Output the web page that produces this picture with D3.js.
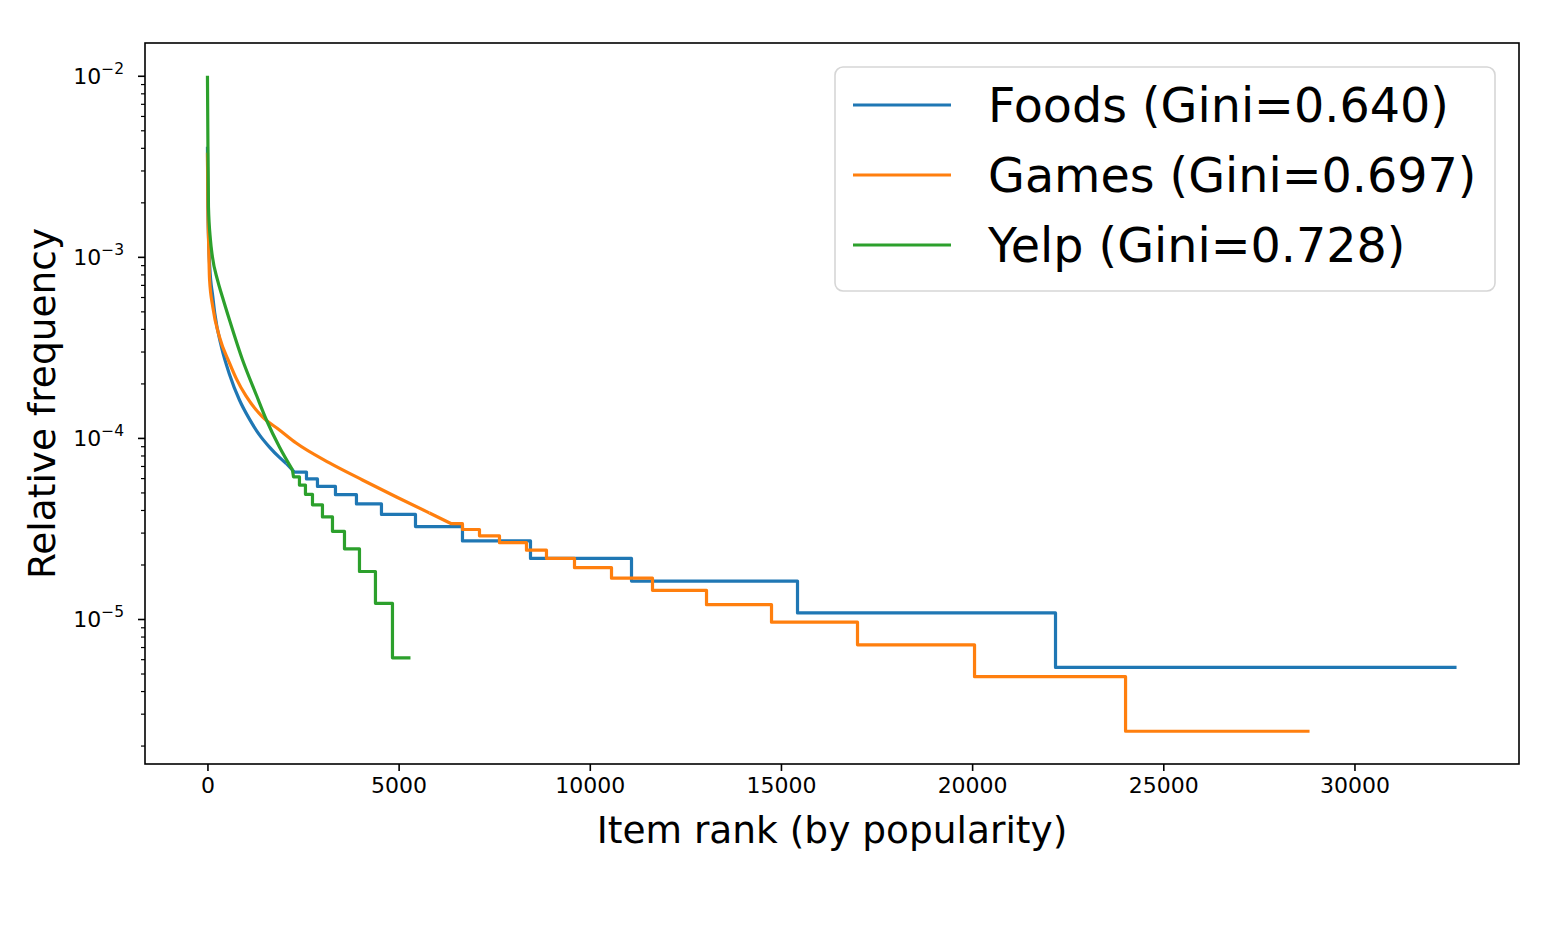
<!DOCTYPE html>
<html>
<head>
<meta charset="utf-8">
<script src="https://cdn.jsdelivr.net/npm/d3@7"></script>
<style>
  body { margin: 0; background: #fff; }
  text { font-family: "DejaVu Sans", sans-serif; }
</style>
</head>
<body>
<div id="chart"></div>
<script>
// values
// head = the smooth part of each curve, steps = the flat runs after it
var foodsHeadRank = [0, 10, 30, 60, 139, 190, 366, 575, 837, 1099, 1360, 1622, 1883, 2066]
var foodsHeadFreq = [4.06e-3, 2.06e-3, 1.24e-3, 8.8e-4, 6.04e-4, 4.9e-4, 3.18e-4, 2.25e-4, 1.62e-4, 1.27e-4, 1.04e-4, 8.9e-5, 7.8e-5, 7.2e-5]
var foodsStepRank = [2276, 2590, 2877, 3348, 3897, 4551, 5441, 6670, 8449, 11091, 15433, 22181, 32670]
var foodsStepFreq = [6.48e-5, 5.94e-5, 5.4e-5, 4.86e-5, 4.32e-5, 3.78e-5, 3.24e-5, 2.7e-5, 2.16e-5, 1.62e-5, 1.08e-5, 5.4e-6]

var gamesHeadRank = [0, 10, 30, 55, 139, 314, 575, 758, 1012, 1439, 1883, 2320, 3191, 4054, 4944, 5807]
var gamesHeadFreq = [3.76e-3, 1.95e-3, 1.2e-3, 7.5e-4, 5.3e-4, 3.61e-4, 2.6e-4, 2.12e-4, 1.7e-4, 1.306e-4, 1.107e-4, 9.37e-5, 7.28e-5, 5.86e-5, 4.72e-5, 3.85e-5]
var gamesStepRank = [6380, 6670, 7115, 7638, 8344, 8867, 9600, 10568, 11640, 13053, 14753, 17002, 20063, 24013, 28825]
var gamesStepFreq = [3.36e-5, 3.12e-5, 2.88e-5, 2.64e-5, 2.4e-5, 2.16e-5, 1.92e-5, 1.68e-5, 1.44e-5, 1.2e-5, 9.6e-6, 7.2e-6, 4.8e-6, 2.4e-6]

var yelpHeadRank = [0, 13, 26, 78, 130, 262, 392, 575, 916, 1282, 1543, 1883, 2223]
var yelpHeadFreq = [1.0e-2, 3.9e-3, 1.89e-3, 1.24e-3, 1.0e-3, 7.46e-4, 6.0e-4, 4.49e-4, 2.7e-4, 1.72e-4, 1.256e-4, 8.9e-5, 6.66e-5]
var yelpStepRank = [2250, 2406, 2563, 2747, 3008, 3270, 3584, 3976, 4394, 4839, 5310]
var yelpStepFreq = [6.1e-5, 5.49e-5, 4.88e-5, 4.27e-5, 3.66e-5, 3.05e-5, 2.44e-5, 1.83e-5, 1.22e-5, 6.1e-6]

var seriesNames = ['Foods (Gini=0.640)', 'Games (Gini=0.697)', 'Yelp (Gini=0.728)']
var seriesColors = ['#1f77b4', '#ff7f0e', '#2ca02c']
var xTicks = [0, 5000, 10000, 15000, 20000, 25000, 30000]
var yTicks = [1e-5, 1e-4, 1e-3, 1e-2]

var W = 1561, H = 931
var margin = {top: 43, left: 145, right: 42, bottom: 167}
var pw = W - margin.left - margin.right
var ph = H - margin.top - margin.bottom

function headPoints(hr, hf) {
   return hr.map(function(r, i){ return [r, hf[i]] })
}

// flat runs, starting from the last head point
function stepPoints(hr, hf, sr, sf) {
   var pts = [[hr[hr.length-1], hf[hf.length-1]]]
   for (var i = 0; i < sf.length; i++) {
      pts.push([sr[i], sf[i]])
      pts.push([sr[i+1], sf[i]])
   }
   return pts
}

var series = [
   {head: headPoints(foodsHeadRank, foodsHeadFreq), steps: stepPoints(foodsHeadRank, foodsHeadFreq, foodsStepRank, foodsStepFreq)},
   {head: headPoints(gamesHeadRank, gamesHeadFreq), steps: stepPoints(gamesHeadRank, gamesHeadFreq, gamesStepRank, gamesStepFreq)},
   {head: headPoints(yelpHeadRank, yelpHeadFreq), steps: stepPoints(yelpHeadRank, yelpHeadFreq, yelpStepRank, yelpStepFreq)}
]

var all = d3.merge(series.map(function(s){ return s.head.concat(s.steps) }))
var xExt = d3.extent(all, function(d){ return d[0] })
var yExt = d3.extent(all, function(d){ return Math.log10(d[1]) })
var xPad = (xExt[1] - xExt[0]) * 0.05
var yPad = (yExt[1] - yExt[0]) * 0.05

var xScale = d3.scaleLinear()
   .domain([xExt[0] - xPad, xExt[1] + xPad])
   .range([0, pw])

var yScale = d3.scaleLog()
   .domain([Math.pow(10, yExt[0] - yPad), Math.pow(10, yExt[1] + yPad)])
   .range([ph, 0])

var svg = d3.select('#chart').append('svg')
   .attr('width', W)
   .attr('height', H)

var chart = svg.append('g')
   .attr('transform', 'translate(' + margin.left + ',' + margin.top + ')')

// lines
var smooth = d3.line()
   .curve(d3.curveMonotoneX)
   .x(function(d){ return xScale(d[0]) })
   .y(function(d){ return yScale(d[1]) })

var stairs = d3.line()
   .x(function(d){ return xScale(d[0]) })
   .y(function(d){ return yScale(d[1]) })

var sg = chart.selectAll('.series')
   .data(series)
   .enter()
   .append('g')
   .attr('class', 'series')
   .style('fill', 'none')
   .style('stroke', function(d, i){ return seriesColors[i] })
   .style('stroke-width', 3.2)
   .style('stroke-linejoin', 'round')

sg.append('path').attr('d', function(d){ return smooth(d.head) })
sg.append('path').attr('d', function(d){ return stairs(d.steps) })

// x axis
var xAxis = d3.axisBottom(xScale)
   .tickValues(xTicks)
   .tickSize(7)
   .tickPadding(6)
   .tickFormat(d3.format('d'))

var gx = chart.append('g')
   .attr('transform', 'translate(0,' + ph + ')')
   .call(xAxis)
gx.select('.domain').remove()
gx.selectAll('line').style('stroke', '#000').style('stroke-width', 1.6)
gx.selectAll('text').style('font-size', '22px').style('fill', '#000')

// y axis, major ticks
var yAxis = d3.axisLeft(yScale)
   .tickValues(yTicks)
   .tickSize(7)
   .tickFormat('')

var gy = chart.append('g').call(yAxis)
gy.select('.domain').remove()
gy.selectAll('line').style('stroke', '#000').style('stroke-width', 1.6)

// y tick labels as 10 with superscript
gy.selectAll('.tick').each(function(d){
   var t = d3.select(this).append('text')
      .attr('x', -21)
      .attr('y', 8)
      .attr('text-anchor', 'end')
      .style('fill', '#000')
   t.append('tspan').text('10').style('font-size', '22px')
   t.append('tspan').text('\u2212' + Math.abs(Math.round(Math.log10(d))))
      .attr('dy', -10)
      .style('font-size', '15.5px')
})

// y axis, minor ticks
var minor = []
for (var e = -7; e <= -1; e++) {
   for (var m = 2; m <= 9; m++) {
      var v = m * Math.pow(10, e)
      if (v >= yScale.domain()[0] && v <= yScale.domain()[1]) minor.push(v)
   }
}
var gym = chart.append('g').call(d3.axisLeft(yScale).tickValues(minor).tickSize(4).tickFormat(''))
gym.select('.domain').remove()
gym.selectAll('line').style('stroke', '#000').style('stroke-width', 1.2)

// frame
chart.append('rect')
   .attr('width', pw)
   .attr('height', ph)
   .style('fill', 'none')
   .style('stroke', '#000')
   .style('stroke-width', 1.6)

// axis titles
chart.append('text')
   .attr('x', pw / 2)
   .attr('y', ph + 79)
   .attr('text-anchor', 'middle')
   .style('font-size', '37.5px')
   .text('Item rank (by popularity)')

chart.append('text')
   .attr('transform', 'translate(' + (-90) + ',' + (ph / 2) + ') rotate(-90)')
   .attr('text-anchor', 'middle')
   .style('font-size', '37.5px')
   .text('Relative frequency')

// legend
var legend = svg.append('g').attr('class', 'legend')
legend.append('rect')
   .attr('x', 835)
   .attr('y', 67)
   .attr('width', 660)
   .attr('height', 224)
   .attr('rx', 8)
   .style('fill', '#fff')
   .style('fill-opacity', 0.8)
   .style('stroke', '#d6d6d6')
   .style('stroke-width', 1.6)

var items = legend.selectAll('.item')
   .data(seriesNames)
   .enter()
   .append('g')
   .attr('class', 'item')
   .attr('transform', function(d, i){ return 'translate(0,' + (105 + i * 70) + ')' })

items.append('line')
   .attr('x1', 853)
   .attr('x2', 951)
   .style('stroke', function(d, i){ return seriesColors[i] })
   .style('stroke-width', 3.2)

items.append('text')
   .attr('x', 988)
   .attr('y', 17)
   .style('font-size', '47.6px')
   .text(function(d){ return d })
</script>
</body>
</html>
